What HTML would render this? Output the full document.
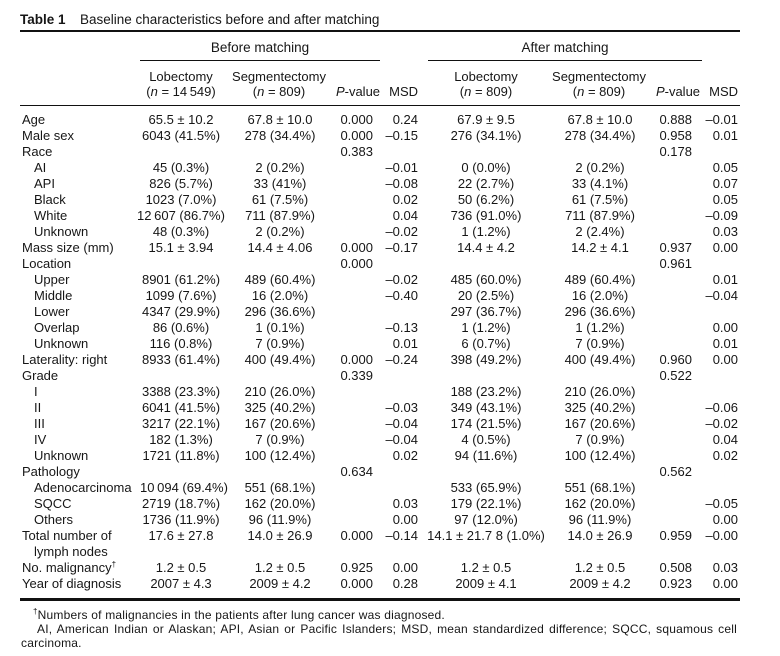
<!DOCTYPE html>
<html>
<head>
<meta charset="utf-8">
<style>
  html,body{margin:0;padding:0;background:#fff;}
  body{width:780px;height:656px;overflow:hidden;position:relative;
       font-family:"Liberation Sans",Arial,sans-serif;color:#161616;font-size:13px;}
  .abs{position:absolute;white-space:nowrap;}
  .rule{position:absolute;background:#111;}
  .r{position:absolute;left:0;width:780px;height:16px;line-height:16px;}
  .r span{position:absolute;top:0;white-space:nowrap;}
  .l{left:22px;}
  .s{left:34px;}
  .c1{left:111px;width:140px;text-align:center;}
  .c2{left:210px;width:140px;text-align:center;}
  .p1{left:313px;width:60px;text-align:right;}
  .m1{left:358px;width:60px;text-align:right;}
  .c3{left:416px;width:140px;text-align:center;}
  .c4{left:530px;width:140px;text-align:center;}
  .p2{left:632px;width:60px;text-align:right;}
  .m2{left:678px;width:60px;text-align:right;}
  .h{position:absolute;height:16px;line-height:16px;white-space:nowrap;text-align:center;}
  .fn{position:absolute;font-size:12px;letter-spacing:0.2px;line-height:14px;white-space:nowrap;}
  sup{font-size:8px;line-height:0;vertical-align:5px;}
</style>
</head>
<body>

<!-- Title -->
<div class="abs" style="left:20px;top:12px;font-size:13.5px;line-height:16px;font-weight:bold;">Table 1</div>
<div class="abs" style="left:80px;top:12px;font-size:13.5px;line-height:16px;">Baseline characteristics before and after matching</div>

<div class="rule" style="left:20px;top:30px;width:720px;height:2px;"></div>

<!-- Group headers -->
<div class="h" style="left:160px;width:200px;top:40px;font-size:13.5px;">Before matching</div>
<div class="h" style="left:465px;width:200px;top:40px;font-size:13.5px;">After matching</div>
<div class="rule" style="left:140px;top:60px;width:240px;height:1px;"></div>
<div class="rule" style="left:428px;top:60px;width:274px;height:1px;"></div>

<!-- Column headers -->
<div class="h" style="left:111px;width:140px;top:69px;">Lobectomy</div>
<div class="h" style="left:111px;width:140px;top:84px;">(<i>n</i> = 14&#8201;549)</div>
<div class="h" style="left:209px;width:140px;top:69px;">Segmentectomy</div>
<div class="h" style="left:209px;width:140px;top:84px;">(<i>n</i> = 809)</div>
<div class="h" style="left:318px;width:80px;top:84px;"><i>P</i>-value</div>
<div class="h" style="left:358px;width:60px;top:84px;text-align:right;">MSD</div>
<div class="h" style="left:416px;width:140px;top:69px;">Lobectomy</div>
<div class="h" style="left:416px;width:140px;top:84px;">(<i>n</i> = 809)</div>
<div class="h" style="left:529px;width:140px;top:69px;">Segmentectomy</div>
<div class="h" style="left:529px;width:140px;top:84px;">(<i>n</i> = 809)</div>
<div class="h" style="left:638px;width:80px;top:84px;"><i>P</i>-value</div>
<div class="h" style="left:678px;width:60px;top:84px;text-align:right;">MSD</div>

<div class="rule" style="left:20px;top:105px;width:720px;height:1px;"></div>

<!-- Rows: top = 112 + 16*i -->
<div class="r" style="top:112px"><span class="l">Age</span><span class="c1">65.5 ± 10.2</span><span class="c2">67.8 ± 10.0</span><span class="p1">0.000</span><span class="m1">0.24</span><span class="c3">67.9 ± 9.5</span><span class="c4">67.8 ± 10.0</span><span class="p2">0.888</span><span class="m2">–0.01</span></div>
<div class="r" style="top:128px"><span class="l">Male sex</span><span class="c1">6043 (41.5%)</span><span class="c2">278 (34.4%)</span><span class="p1">0.000</span><span class="m1">–0.15</span><span class="c3">276 (34.1%)</span><span class="c4">278 (34.4%)</span><span class="p2">0.958</span><span class="m2">0.01</span></div>
<div class="r" style="top:144px"><span class="l">Race</span><span class="p1">0.383</span><span class="p2">0.178</span></div>
<div class="r" style="top:160px"><span class="s">AI</span><span class="c1">45 (0.3%)</span><span class="c2">2 (0.2%)</span><span class="m1">–0.01</span><span class="c3">0 (0.0%)</span><span class="c4">2 (0.2%)</span><span class="m2">0.05</span></div>
<div class="r" style="top:176px"><span class="s">API</span><span class="c1">826 (5.7%)</span><span class="c2">33 (41%)</span><span class="m1">–0.08</span><span class="c3">22 (2.7%)</span><span class="c4">33 (4.1%)</span><span class="m2">0.07</span></div>
<div class="r" style="top:192px"><span class="s">Black</span><span class="c1">1023 (7.0%)</span><span class="c2">61 (7.5%)</span><span class="m1">0.02</span><span class="c3">50 (6.2%)</span><span class="c4">61 (7.5%)</span><span class="m2">0.05</span></div>
<div class="r" style="top:208px"><span class="s">White</span><span class="c1">12&#8201;607 (86.7%)</span><span class="c2">711 (87.9%)</span><span class="m1">0.04</span><span class="c3">736 (91.0%)</span><span class="c4">711 (87.9%)</span><span class="m2">–0.09</span></div>
<div class="r" style="top:224px"><span class="s">Unknown</span><span class="c1">48 (0.3%)</span><span class="c2">2 (0.2%)</span><span class="m1">–0.02</span><span class="c3">1 (1.2%)</span><span class="c4">2 (2.4%)</span><span class="m2">0.03</span></div>
<div class="r" style="top:240px"><span class="l">Mass size (mm)</span><span class="c1">15.1 ± 3.94</span><span class="c2">14.4 ± 4.06</span><span class="p1">0.000</span><span class="m1">–0.17</span><span class="c3">14.4 ± 4.2</span><span class="c4">14.2 ± 4.1</span><span class="p2">0.937</span><span class="m2">0.00</span></div>
<div class="r" style="top:256px"><span class="l">Location</span><span class="p1">0.000</span><span class="p2">0.961</span></div>
<div class="r" style="top:272px"><span class="s">Upper</span><span class="c1">8901 (61.2%)</span><span class="c2">489 (60.4%)</span><span class="m1">–0.02</span><span class="c3">485 (60.0%)</span><span class="c4">489 (60.4%)</span><span class="m2">0.01</span></div>
<div class="r" style="top:288px"><span class="s">Middle</span><span class="c1">1099 (7.6%)</span><span class="c2">16 (2.0%)</span><span class="m1">–0.40</span><span class="c3">20 (2.5%)</span><span class="c4">16 (2.0%)</span><span class="m2">–0.04</span></div>
<div class="r" style="top:304px"><span class="s">Lower</span><span class="c1">4347 (29.9%)</span><span class="c2">296 (36.6%)</span><span class="c3">297 (36.7%)</span><span class="c4">296 (36.6%)</span></div>
<div class="r" style="top:320px"><span class="s">Overlap</span><span class="c1">86 (0.6%)</span><span class="c2">1 (0.1%)</span><span class="m1">–0.13</span><span class="c3">1 (1.2%)</span><span class="c4">1 (1.2%)</span><span class="m2">0.00</span></div>
<div class="r" style="top:336px"><span class="s">Unknown</span><span class="c1">116 (0.8%)</span><span class="c2">7 (0.9%)</span><span class="m1">0.01</span><span class="c3">6 (0.7%)</span><span class="c4">7 (0.9%)</span><span class="m2">0.01</span></div>
<div class="r" style="top:352px"><span class="l">Laterality: right</span><span class="c1">8933 (61.4%)</span><span class="c2">400 (49.4%)</span><span class="p1">0.000</span><span class="m1">–0.24</span><span class="c3">398 (49.2%)</span><span class="c4">400 (49.4%)</span><span class="p2">0.960</span><span class="m2">0.00</span></div>
<div class="r" style="top:368px"><span class="l">Grade</span><span class="p1">0.339</span><span class="p2">0.522</span></div>
<div class="r" style="top:384px"><span class="s">I</span><span class="c1">3388 (23.3%)</span><span class="c2">210 (26.0%)</span><span class="c3">188 (23.2%)</span><span class="c4">210 (26.0%)</span></div>
<div class="r" style="top:400px"><span class="s">II</span><span class="c1">6041 (41.5%)</span><span class="c2">325 (40.2%)</span><span class="m1">–0.03</span><span class="c3">349 (43.1%)</span><span class="c4">325 (40.2%)</span><span class="m2">–0.06</span></div>
<div class="r" style="top:416px"><span class="s">III</span><span class="c1">3217 (22.1%)</span><span class="c2">167 (20.6%)</span><span class="m1">–0.04</span><span class="c3">174 (21.5%)</span><span class="c4">167 (20.6%)</span><span class="m2">–0.02</span></div>
<div class="r" style="top:432px"><span class="s">IV</span><span class="c1">182 (1.3%)</span><span class="c2">7 (0.9%)</span><span class="m1">–0.04</span><span class="c3">4 (0.5%)</span><span class="c4">7 (0.9%)</span><span class="m2">0.04</span></div>
<div class="r" style="top:448px"><span class="s">Unknown</span><span class="c1">1721 (11.8%)</span><span class="c2">100 (12.4%)</span><span class="m1">0.02</span><span class="c3">94 (11.6%)</span><span class="c4">100 (12.4%)</span><span class="m2">0.02</span></div>
<div class="r" style="top:464px"><span class="l">Pathology</span><span class="p1">0.634</span><span class="p2">0.562</span></div>
<div class="r" style="top:480px"><span class="s">Adenocarcinoma</span><span class="c1" style="left:114px">10&#8201;094 (69.4%)</span><span class="c2">551 (68.1%)</span><span class="c3">533 (65.9%)</span><span class="c4">551 (68.1%)</span></div>
<div class="r" style="top:496px"><span class="s">SQCC</span><span class="c1">2719 (18.7%)</span><span class="c2">162 (20.0%)</span><span class="m1">0.03</span><span class="c3">179 (22.1%)</span><span class="c4">162 (20.0%)</span><span class="m2">–0.05</span></div>
<div class="r" style="top:512px"><span class="s">Others</span><span class="c1">1736 (11.9%)</span><span class="c2">96 (11.9%)</span><span class="m1">0.00</span><span class="c3">97 (12.0%)</span><span class="c4">96 (11.9%)</span><span class="m2">0.00</span></div>
<div class="r" style="top:528px"><span class="l">Total number of</span><span class="c1">17.6 ± 27.8</span><span class="c2">14.0 ± 26.9</span><span class="p1">0.000</span><span class="m1">–0.14</span><span class="c3">14.1 ± 21.7 8 (1.0%)</span><span class="c4">14.0 ± 26.9</span><span class="p2">0.959</span><span class="m2">–0.00</span></div>
<div class="r" style="top:544px"><span class="s">lymph nodes</span></div>
<div class="r" style="top:560px"><span class="l">No. malignancy<sup>†</sup></span><span class="c1">1.2 ± 0.5</span><span class="c2">1.2 ± 0.5</span><span class="p1">0.925</span><span class="m1">0.00</span><span class="c3">1.2 ± 0.5</span><span class="c4">1.2 ± 0.5</span><span class="p2">0.508</span><span class="m2">0.03</span></div>
<div class="r" style="top:576px"><span class="l">Year of diagnosis</span><span class="c1">2007 ± 4.3</span><span class="c2">2009 ± 4.2</span><span class="p1">0.000</span><span class="m1">0.28</span><span class="c3">2009 ± 4.1</span><span class="c4">2009 ± 4.2</span><span class="p2">0.923</span><span class="m2">0.00</span></div>

<div class="rule" style="left:20px;top:598px;width:720px;height:3px;"></div>

<!-- Footnotes -->
<div class="fn" style="left:33px;top:608px;"><sup>†</sup>Numbers of malignancies in the patients after lung cancer was diagnosed.</div>
<div class="fn" style="left:37px;top:622px;width:700px;text-align:justify;text-align-last:justify;">AI, American Indian or Alaskan; API, Asian or Pacific Islanders; MSD, mean standardized difference; SQCC, squamous cell</div>
<div class="fn" style="left:21px;top:636px;">carcinoma.</div>

</body>
</html>
